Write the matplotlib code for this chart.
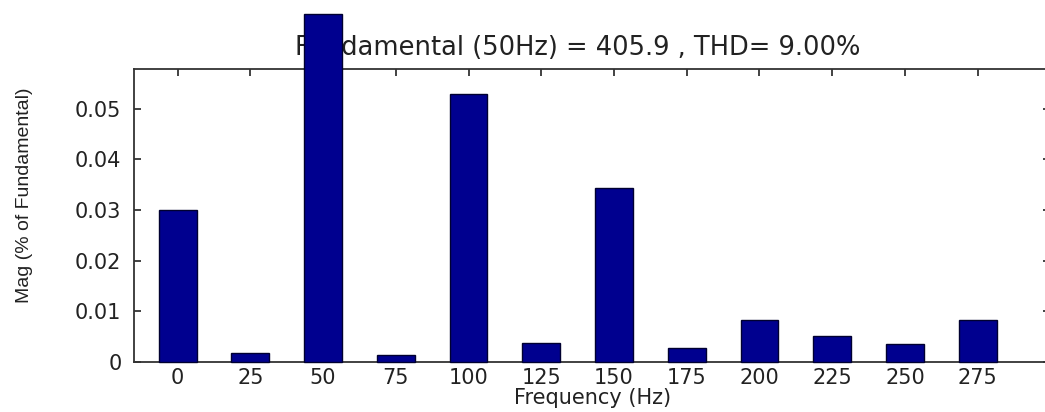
import numpy as np
import matplotlib
matplotlib.use("Agg")
import matplotlib.pyplot as plt

# harmonic spectrum, magnitudes relative to the fundamental
freqs = [0, 25, 50, 75, 100, 125, 150, 175, 200, 225, 250, 275]
mags = [0.0300, 0.0018, 0.0687, 0.0013, 0.0529, 0.0038,
        0.0343, 0.0027, 0.0083, 0.0052, 0.0035, 0.0083]
yticks = [0, 0.01, 0.02, 0.03, 0.04, 0.05]
ytick_labels = ["0", "0.01", "0.02", "0.03", "0.04", "0.05"]
fundamental = 405.9
thd = 9.00

txt = "#222222"
bar_col = "#00008f"

fig = plt.figure(figsize=(10.45, 4.12), dpi=100)
# the right edge of the axes runs a little past the figure border
ax = fig.add_axes([0.1282, 0.1214, 0.877, 0.7112])

bars = ax.bar(freqs, mags, width=13, color=bar_col, edgecolor="#000030",
              linewidth=1.0, zorder=5)
# fundamental bar pokes out of the axes box (and over the title)
for b in bars:
    b.set_clip_on(False)

ax.set_xlim(-15, 300)
ax.set_ylim(0, 0.0578)
ax.set_xticks(freqs)
ax.set_xticklabels([str(f) for f in freqs])
ax.set_yticks(yticks)
ax.set_yticklabels(ytick_labels)

ax.set_axisbelow(True)
ax.tick_params(direction="in", length=5, width=1.2, colors=txt,
               labelsize=15, top=True, right=True)
ax.tick_params(axis="x", pad=4)
ax.tick_params(axis="y", pad=9)
for s in ax.spines.values():
    s.set_linewidth(1.3)
    s.set_color("#333333")

t = ax.set_title("Fundamental (50Hz) = %.1f , THD= %.2f%%" % (fundamental, thd),
                 fontsize=18.5, color=txt, pad=10)
t.set_zorder(1)
t.set_x(0.4845)
ax.set_xlabel("Frequency (Hz)", fontsize=15, color=txt, labelpad=0)
ax.set_ylabel("Mag (% of Fundamental)", fontsize=14, color=txt,
              family="Liberation Sans")
ax.yaxis.set_label_coords(-0.110, 0.57)

fig.savefig("out.png", dpi=100, facecolor="white")
